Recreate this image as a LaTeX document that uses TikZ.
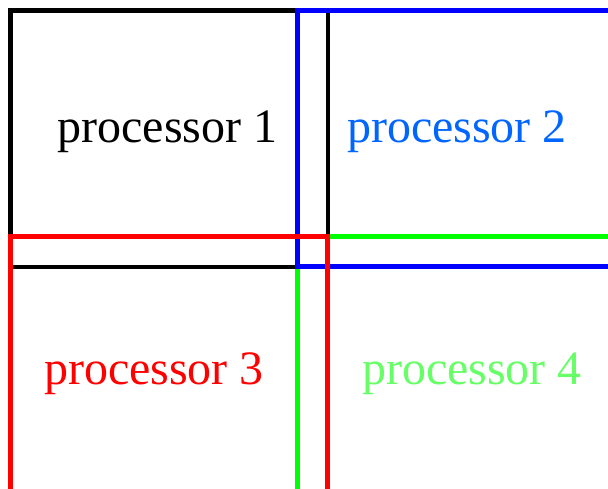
\documentclass[tikz,border=0pt]{standalone}
\usepackage{fontspec}
\setmainfont{Liberation Serif}
\definecolor{procblue}{RGB}{0,102,255}
\definecolor{procgreen}{RGB}{102,255,102}
\tikzset{
  region/.style={line width=4.2pt},
  label/.style={anchor=base, font=\fontsize{48}{48}\selectfont, inner sep=0pt}
}
\begin{document}
\begin{tikzpicture}[x=1pt,y=-1pt]
  \useasboundingbox (0,0) rectangle (608,489);
  \begin{scope}
    \clip (0,0) rectangle (608,489);
    % processor 1 (black) and its overlap
    \draw[region, black] (10.5,10.5) rectangle (328,267);
    % processor 4 (green), extends past right and bottom
    \draw[region, green] (297.5,236.5) rectangle (640,520);
    % processor 2 (blue), extends past the right edge
    \draw[region, blue] (297.5,10.5) rectangle (640,266.5);
    % processor 3 (red), extends past the bottom
    \draw[region, red] (10.5,236.5) rectangle (327.5,520);
  \end{scope}
  \node[label, black]     (p1) at (167.5,143) {processor 1};
  \node[label, procblue]  (p2) at (457,143)   {processor 2};
  \node[label, red]       (p3) at (154,384)   {processor 3};
  \node[label, procgreen] (p4) at (472,384)   {processor 4};
\end{tikzpicture}
\end{document}
